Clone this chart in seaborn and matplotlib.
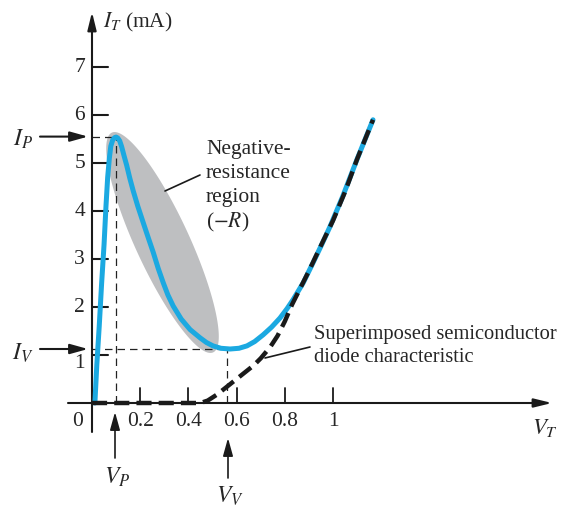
import numpy as np
import pandas as pd
import matplotlib
matplotlib.use("Agg")
import matplotlib.pyplot as plt
import seaborn as sns

# ---- data ----
tunnel_v = [0.012, 0.02, 0.03, 0.04, 0.05, 0.058, 0.065, 0.072, 0.078, 0.086,
            0.094, 0.10, 0.107, 0.115, 0.123, 0.133, 0.144, 0.157, 0.171, 0.19,
            0.215, 0.235, 0.254, 0.275, 0.296, 0.315, 0.337, 0.37, 0.407, 0.448,
            0.475, 0.502, 0.535, 0.573, 0.61, 0.643, 0.675, 0.71, 0.745, 0.78,
            0.81, 0.834, 0.876, 0.917, 0.955, 0.988, 1.04, 1.1, 1.166]
tunnel_i = [0.0, 0.8, 1.6, 2.5, 3.3, 4.1, 4.7, 5.1, 5.35, 5.48,
            5.53, 5.54, 5.52, 5.46, 5.34, 5.15, 4.95, 4.68, 4.42, 4.1,
            3.72, 3.42, 3.14, 2.8, 2.5, 2.25, 2.02, 1.75, 1.53, 1.36,
            1.26, 1.19, 1.14, 1.125, 1.14, 1.19, 1.28, 1.42, 1.58, 1.77,
            1.97, 2.15, 2.5, 2.92, 3.32, 3.68, 4.3, 5.08, 5.9]
diode_v = [0.0, 0.1, 0.2, 0.3, 0.4, 0.45, 0.48, 0.52, 0.57, 0.62, 0.67, 0.70,
           0.74, 0.77, 0.80, 0.83, 0.863, 0.9, 0.95, 1.0, 1.05, 1.1, 1.166]
diode_i = [0.0, 0.0, 0.0, 0.0, 0.0, 0.0, 0.05, 0.18, 0.38, 0.58, 0.78, 0.93,
           1.17, 1.4, 1.7, 2.05, 2.38, 2.75, 3.28, 3.8, 4.4, 5.08, 5.9]
y_ticks = [1, 2, 3, 4, 5, 6, 7]
x_ticks = [0.2, 0.4, 0.6, 0.8, 1.0]
x_tick_labels = ["0.2", "0.4", "0.6", "0.8", "1"]
V_P, I_P = 0.10, 5.55
V_V, I_V = 0.56, 1.125

tunnel = pd.DataFrame({"V": tunnel_v, "I": tunnel_i})
diode = pd.DataFrame({"V": diode_v, "I": diode_i})

sns.set_theme(style="white")
plt.rcParams["font.family"] = ["Liberation Serif", "DejaVu Serif"]
plt.rcParams["mathtext.fontset"] = "stix"

BLUE = "#1BA9E1"
GRAY = "#BEBFC1"
FS = 15.5

fig = plt.figure(figsize=(5.69, 5.07), dpi=100)
ax = fig.add_axes([0, 0, 1, 1])
# pixel mapping: x=0 at px 92, 241 px / V ; y=0 at px 403, 48 px / mA
SX, X0, SY, Y0 = 241.0, 92.0, 48.0, 403.0
XL = (-X0 / SX, (569 - X0) / SX)
YL = (-(507 - Y0) / SY, Y0 / SY)


def X(px):
    return (px - X0) / SX


def Y(py):
    return (Y0 - py) / SY


# grey negative-resistance ellipse (built in pixel space)
cx, cy, a, b = 162.5, 242.5, 121.0, 27.0
u = np.array([101.0, 219.0]); u /= np.linalg.norm(u)
v = np.array([u[1], -u[0]])
t = np.linspace(0, 2 * np.pi, 200)
ex = cx + a * np.cos(t) * u[0] + b * np.sin(t) * v[0]
ey = cy + a * np.cos(t) * u[1] + b * np.sin(t) * v[1]
ax.fill(X(ex), Y(ey), color=GRAY, lw=0, zorder=1)

# axes with arrows
ax.plot([0, 0], [Y(432), 0], color="k", lw=1.5, zorder=3)
ax.annotate("", xy=(0, Y(12)), xytext=(0, 0),
            arrowprops=dict(arrowstyle="-|>,head_length=0.9,head_width=0.22",
                            lw=1.5, color="k", shrinkA=0, shrinkB=0), zorder=3)
ax.annotate("", xy=(X(552), 0), xytext=(X(68), 0),
            arrowprops=dict(arrowstyle="-|>,head_length=0.9,head_width=0.22",
                            lw=1.5, color="k", shrinkA=0, shrinkB=0), zorder=3)
for yt in y_ticks:
    ax.plot([0, X(108)], [yt, yt], color="k", lw=1.5, zorder=3)
    ax.text(X(85), yt if yt != 1 else Y(364), str(yt), ha="right", va="center",
            fontsize=FS)
for xt, lab in zip(x_ticks, x_tick_labels):
    ax.plot([xt, xt], [0, Y(388)], color="k", lw=1.3, zorder=3)
    ax.text(xt, Y(422), lab, ha="center", va="center", fontsize=FS)
ax.text(X(78), Y(422), "0", ha="center", va="center", fontsize=FS)

# dashed guide lines
gkw = dict(color="#222222", lw=0.9, dashes=(6, 4), zorder=2)
ax.plot([0, V_P], [I_P, I_P], **gkw)
ax.plot([V_P, V_P], [0, I_P], **gkw)
ax.plot([0, V_V], [I_V, I_V], **gkw)
ax.plot([V_V, V_V], [0, I_V], **gkw)

# curves
sns.lineplot(data=tunnel, x="V", y="I", ax=ax, color=BLUE, lw=3.6, zorder=4,
             sort=False, estimator=None)
sns.lineplot(data=diode, x="V", y="I", ax=ax, color="#1a1a1a", lw=3.2, zorder=5,
             sort=False, estimator=None)
ax.lines[-1].set_dashes((3.4, 1.6))
ax.lines[-2].set_solid_joinstyle("round")
ax.set_xlim(*XL)
ax.set_ylim(*YL)
ax.axis("off")

# axis titles
ax.text(X(103), Y(22), r"$I_T$ (mA)", ha="left", va="center", fontsize=FS)
ax.text(X(545), Y(428), r"$V_T$", ha="center", va="center", fontsize=FS + 1)

# I_P, I_V arrows
akw = dict(arrowstyle="-|>,head_length=0.9,head_width=0.25", lw=1.5, color="k",
           shrinkA=0, shrinkB=0)
ax.annotate("", xy=(X(88), I_P), xytext=(X(40), I_P), arrowprops=akw)
ax.annotate("", xy=(X(88), I_V), xytext=(X(40), I_V), arrowprops=akw)
ax.text(X(23), Y(139), r"$I_P$", ha="center", va="center", fontsize=FS + 1.5)
ax.text(X(23), Y(353), r"$I_V$", ha="center", va="center", fontsize=FS + 1.5)

# V_P, V_V arrows
akw2 = dict(arrowstyle="-|>,head_length=0.9,head_width=0.25", lw=1.2, color="k",
            shrinkA=0, shrinkB=0)
ax.annotate("", xy=(X(115), Y(412)), xytext=(X(115), Y(458)), arrowprops=akw2)
ax.annotate("", xy=(X(228), Y(438)), xytext=(X(228), Y(478)), arrowprops=akw2)
ax.text(X(117), Y(477), r"$V_P$", ha="center", va="center", fontsize=FS + 1.5)
ax.text(X(230), Y(496), r"$V_V$", ha="center", va="center", fontsize=FS + 1.5)

# annotations
ax.plot([X(165), X(200)], [Y(191), Y(175)], color="k", lw=1.2, zorder=3)
for txt, by in zip(["Negative-", "resistance", "region", r"($-\mathit{R}$)"],
                   [154, 178, 202, 227]):
    ax.text(X(206), Y(by), txt, ha="left", va="baseline", fontsize=FS)
ax.plot([X(265), X(310)], [Y(358), Y(347)], color="k", lw=1.2, zorder=3)
ax.text(X(314), Y(339), "Superimposed semiconductor", ha="left", va="baseline",
        fontsize=14.8)
ax.text(X(314), Y(362), "diode characteristic", ha="left", va="baseline",
        fontsize=14.8)

fig.savefig("out.png", dpi=100)
